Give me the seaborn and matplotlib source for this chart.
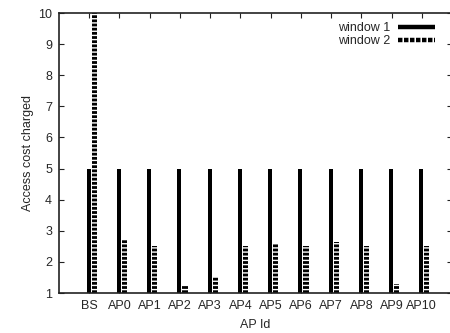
import matplotlib
matplotlib.use("Agg")
import matplotlib.pyplot as plt
import seaborn as sns
import pandas as pd
import numpy as np
from matplotlib.lines import Line2D

categories = ["BS", "AP0", "AP1", "AP2", "AP3", "AP4", "AP5", "AP6", "AP7", "AP8", "AP9", "AP10"]
window1 = [5, 5, 5, 5, 5, 5, 5, 5, 5, 5, 5, 5]
window2 = [10, 2.7, 2.5, 1.25, 1.5, 2.5, 2.57, 2.5, 2.65, 2.5, 1.28, 2.5]
series_names = ["window 1", "window 2"]

df = pd.DataFrame({
    "AP": categories * 2,
    "cost": window1 + window2,
    "window": [series_names[0]] * len(categories) + [series_names[1]] * len(categories),
})

sns.set_style("white")
plt.rcParams['font.family'] = ['Liberation Sans', 'DejaVu Sans']
plt.rcParams['hatch.linewidth'] = 1.0
plt.rcParams['hatch.color'] = 'white'

fig = plt.figure(figsize=(4.5, 3.33), dpi=100)
ax = fig.add_axes([59/450, 1-293/333, (452-59)/450, (293-13)/333])

sns.barplot(data=df, x="AP", y="cost", hue="window", order=categories,
            hue_order=series_names, palette=["black", "black"], width=0.34,
            gap=0, ax=ax, legend=False, saturation=1)

n = len(categories)
for i, p in enumerate(ax.patches):
    p.set_linewidth(0)
    if i < n:
        p.set_width(p.get_width() * 0.8)
    else:
        p.set_hatch("----")
        p.set_edgecolor("white")

ax.set_ylim(1, 10)
ax.set_xlim(-1.085, 11.915)
ax.set_yticks(range(1, 11))
ax.set_xticks(np.arange(n) - 0.085)
ax.set_xticklabels(categories)
ax.set_xlabel("AP Id", fontsize=9, labelpad=5)
ax.set_ylabel("Access cost charged", fontsize=9, labelpad=3)
ax.tick_params(axis='both', direction='in', length=3.5, width=0.8, labelsize=9,
               pad=5, top=True, right=True, bottom=True, left=True,
               labeltop=False, labelright=False, color='#222222')
for s in ax.spines.values():
    s.set_visible(True)
    s.set_color('#222222')
    s.set_linewidth(1.2)

handles = [Line2D([0], [0], color='black', lw=3.2, solid_capstyle='butt'),
           Line2D([0], [0], color='black', lw=3.2, dashes=(1.0, 0.35),
                  dash_capstyle='butt')]
leg = ax.legend(handles, series_names, loc='upper right', frameon=False,
                markerfirst=False, fontsize=9, handlelength=3.0,
                handletextpad=0.6, borderaxespad=0.1, labelspacing=0.1,
                bbox_to_anchor=(0.973, 0.99))

fig.savefig("out.png", dpi=100)
